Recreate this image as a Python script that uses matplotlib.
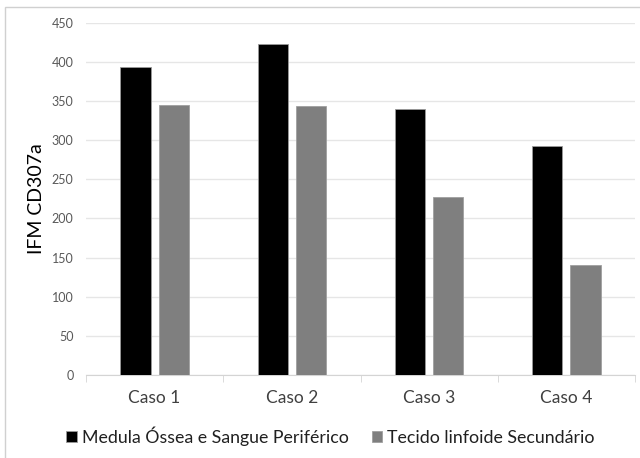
import matplotlib.pyplot as plt
import numpy as np
from matplotlib.patches import Rectangle

plt.rcParams['font.family'] = ['Lato', 'DejaVu Sans']

casos = ["Caso 1", "Caso 2", "Caso 3", "Caso 4"]
medula_sangue = [393, 423, 340, 293]
tecido_linfoide = [345, 344, 227, 140]
series_names = ["Medula Óssea e Sangue Periférico", "Tecido linfoide Secundário"]
yticks = [0, 50, 100, 150, 200, 250, 300, 350, 400, 450]

fig = plt.figure(figsize=(6.4, 4.58), dpi=100)
# thin frame around the chart area
fig.patches.append(Rectangle((5 / 640, -0.05), 1.1, (458 - 7) / 458 + 0.05,
                             transform=fig.transFigure, fill=False,
                             edgecolor="#d0d0d0", linewidth=1.0))

ax = fig.add_axes([86 / 640, 83 / 458, 549 / 640, 352.3 / 458])

x = np.arange(len(casos))
w = 0.22
off = 0.14
ax.bar(x - off, medula_sangue, w, color="black", edgecolor="#9a9a9a",
       linewidth=0.6, label=series_names[0], zorder=3)
ax.bar(x + off, tecido_linfoide, w, color="#7f7f7f", edgecolor="#a0a0a0",
       linewidth=0.6, label=series_names[1], zorder=3)

ax.set_xlim(-0.5, len(casos) - 0.5)
ax.set_ylim(0, 450)
ax.set_yticks(yticks)
ax.grid(axis="y", color="#e6e6e6", linewidth=1.0, zorder=0)
for s in ["top", "right", "left"]:
    ax.spines[s].set_visible(False)
ax.spines["bottom"].set_color("#d4d4d4")

ax.set_xticks(x)
ax.set_xticklabels(casos, fontsize=12.5, color="#404040")
ax.set_xticks(np.arange(len(casos) + 1) - 0.5, minor=True)
ax.tick_params(axis="x", which="major", length=0, pad=11)
ax.tick_params(axis="x", which="minor", length=5, color="#d4d4d4")
ax.tick_params(axis="y", length=0, labelsize=9, labelcolor="#595959", pad=9)

ax.set_ylabel("IFM CD307a", fontsize=14, color="black", labelpad=5)

ax.legend(loc="upper center", bbox_to_anchor=(0.445, -0.10), ncol=2,
          frameon=False, fontsize=12.8, handlelength=0.6, handleheight=0.6,
          handletextpad=0.25, columnspacing=1.3, labelcolor="#202020")

fig.savefig("out.png", dpi=100)
